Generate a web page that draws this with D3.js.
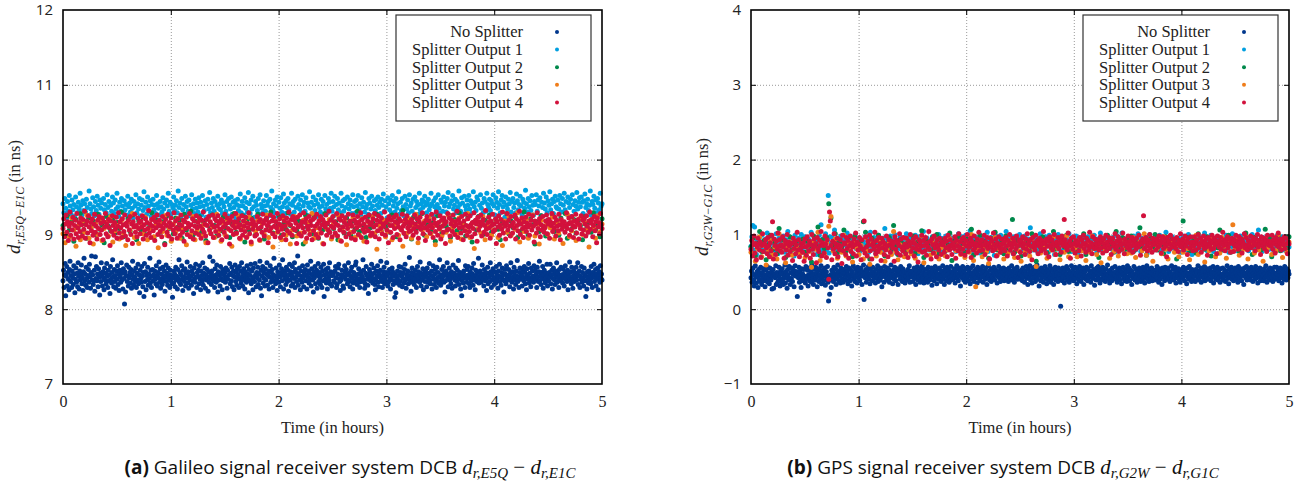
<!DOCTYPE html>
<html>
<head>
<meta charset="utf-8">
<script src="https://cdn.jsdelivr.net/npm/d3@7"></script>
<style>
  body { margin: 0; background: #fff; }
  .grid line { stroke: #999; stroke-dasharray: 1,2; }
  .grid path, .ticks path { display: none; }
  .ticks line { stroke: #000; }
</style>
</head>
<body>
<svg id="fig" width="1301" height="492"></svg>
<script>
// series values are in units of 0.01 ns, one sample per epoch, epochs evenly spaced over 0..5 h

var seriesNames = ["No Splitter", "Splitter Output 1", "Splitter Output 2", "Splitter Output 3", "Splitter Output 4"];
var seriesColors = ["#00378d", "#009fe0", "#00894b", "#ef7d1a", "#d2113c"];
var xTicks = [0, 1, 2, 3, 4, 5];
var galYTicks = [7, 8, 9, 10, 11, 12];
var gpsYTicks = [-1, 0, 1, 2, 3, 4];

// (a) Galileo E5Q - E1C
var galNoSplitter = [
  838,852,829,846,861,818,844,857,831,849,840,826,853,864,837,845,829,851,842,833,858,847,822,840,855,
  836,848,830,862,844,827,851,839,846,859,834,842,825,850,868,838,847,832,856,841,829,845,853,836,860,
  843,828,849,871,839,846,833,838,852,824,870,841,857,838,847,830,854,843,819,848,837,862,845,831,850,
  842,826,855,839,848,834,861,844,829,852,838,846,821,857,840,835,849,866,843,830,853,837,845,828,851,
  840,858,833,847,825,852,843,836,862,839,848,827,854,841,807,850,823,845,859,837,844,831,856,842,849,
  835,853,828,846,864,840,832,851,843,837,855,829,848,839,860,834,846,822,852,841,836,857,844,830,849,
  817,861,837,850,826,845,839,856,832,847,841,868,835,852,829,844,853,838,846,819,851,840,834,858,845,
  831,849,842,863,836,854,828,847,840,833,856,845,838,851,824,843,859,837,848,832,855,841,846,829,852,
  838,845,834,816,842,835,851,847,830,856,839,844,827,853,841,866,836,849,833,846,858,840,825,852,843,
  837,854,831,848,842,863,835,850,828,845,839,857,844,832,851,838,847,821,855,841,836,860,843,829,849,
  844,852,834,858,840,826,851,845,837,862,832,848,841,855,828,846,839,853,843,824,850,836,870,842,847,
  833,851,840,864,838,845,829,854,842,836,859,847,823,850,839,845,831,857,841,848,826,853,838,846,840,
  849,836,855,843,828,852,840,815,846,861,834,848,838,856,830,845,851,826,843,859,837,849,832,854,841,
  846,829,857,840,851,835,862,843,831,848,854,839,827,850,844,836,858,841,847,822,853,838,845,860,834,
  851,840,826,855,843,837,861,846,830,849,842,856,833,847,839,864,828,852,818,844,857,835,849,841,831,
  854,839,847,862,832,845,851,827,843,858,836,849,841,853,829,846,868,838,844,834,855,840,825,850,845,
  836,859,843,830,848,854,838,866,845,827,851,840,847,833,856,842,837,852,824,846,860,839,850,831,844,
  857,834,849,841,862,829,853,843,837,848,871,832,846,855,839,826,851,844,836,858,842,830,849,845,853,
  838,846,827,859,843,851,835,848,840,864,831,854,845,839,823,850,842,857,834,847,852,828,845,861,837,
  849,842,833,856,845,829,851,838,860,817,846,840,853,835,848,827,855,843,839,862,834,850,845,831,848,
  845,849,838,836,851,857,842,829,833,847,855,860,841,837,825,839,846,852,844,831,828,843,858,849,840,
  853,846,834,839,862,848,837,830,844,851,856,841,827,835,849,845,838,859,863,842,833,840,847,854,836,
  829,841,850,846,837,843,866,852,839,828,834,848,857,845,840,832,821,844,853,849,838,842,860,847,835,
  841,855,848,833,826,839,851,844,858,836,830,847,843,852,864,840,837,829,845,850,856,834,842,838,849,
  862,845,831,836,848,853,841,827,839,846,855,850,833,844,838,816,847,822,835,843,851,839,845,857,832,
  837,849,856,844,830,841,848,835,853,860,839,828,846,842,851,834,845,869,840,836,824,849,855,843,838,
  847,833,840,852,846,829,838,857,844,850,841,836,863,848,831,845,839,854,826,843,849,837,852,846,830,
  855,842,836,848,861,839,834,845,851,827,844,858,840,833,847,853,838,829,856,842,849,835,843,866,837,
  832,846,853,840,844,857,836,849,823,838,851,845,862,841,830,847,855,839,843,834,850,828,846,859,842,
  848,839,831,855,843,837,852,846,865,833,840,849,827,844,818,838,847,835,851,842,829,858,845,836,853,
  841,857,846,834,829,850,842,838,855,847,832,861,844,839,826,852,845,837,849,843,868,835,840,851,846,
  836,844,859,847,840,831,853,845,838,849,825,842,856,834,848,843,837,862,850,829,846,839,854,841,833,
  850,842,835,857,846,839,828,851,844,860,837,843,832,849,855,840,846,823,838,853,847,834,858,842,845,
  839,853,845,830,848,862,841,836,850,843,827,856,846,839,833,851,844,865,837,842,829,849,855,840,847,
  845,831,852,841,838,857,849,834,843,826,854,846,840,861,835,848,842,830,855,839,851,844,836,858,843,
  852,840,847,829,856,843,837,850,864,838,845,833,849,841,857,828,846,852,839,835,848,843,860,831,844,
  838,849,843,860,834,846,852,827,841,855,847,839,833,851,844,862,836,848,842,829,853,845,838,856,840,
  846,835,854,842,831,849,858,840,845,837,852,826,847,843,863,839,850,834,856,841,828,845,851,837,848,
  843,856,839,848,862,833,845,851,829,844,840,857,836,849,842,831,855,846,838,817,844,827,850,842,835,
  851,838,846,834,857,842,829,849,845,860,837,843,853,831,847,840,855,826,844,850,836,858,841,847,839
];
var galSplitter1 = [
  941,929,948,935,922,944,931,952,938,927,946,933,940,924,950,937,929,943,934,955,939,926,945,932,941,
  930,947,936,923,958,941,934,928,949,937,925,944,932,951,939,927,946,935,942,921,948,933,940,929,953,
  936,944,925,939,931,950,942,928,946,934,955,937,924,943,931,948,938,929,945,933,940,926,951,937,942,
  930,947,935,922,944,938,953,929,941,934,948,925,939,946,932,957,936,943,927,950,938,931,945,924,940,
  947,933,939,928,952,941,935,926,944,937,930,949,934,942,923,946,938,955,931,943,927,940,936,950,932,
  939,945,929,958,936,942,924,948,933,940,927,951,937,944,931,946,925,939,953,934,941,928,947,935,942,
  930,949,937,943,926,952,938,932,945,923,940,947,934,956,929,942,936,948,931,944,927,939,951,935,941,
  933,946,928,942,937,953,931,944,925,948,939,934,950,927,943,936,945,922,940,947,932,938,954,929,944,
  938,926,949,935,943,930,956,941,928,946,934,951,937,923,944,939,932,948,927,953,940,935,929,945,938,
  931,952,939,944,925,947,936,958,933,941,929,946,938,950,924,943,935,949,930,937,954,942,928,945,936,
  948,933,941,927,955,939,944,930,947,936,922,951,940,934,946,929,953,938,943,931,949,926,942,937,957,
  935,943,928,950,939,932,946,924,941,953,936,930,947,938,944,927,952,934,940,929,948,943,935,955,931,
  944,937,951,926,940,948,933,942,929,955,938,945,931,947,936,923,950,941,934,946,939,928,953,937,944,
  929,946,938,952,933,941,925,949,937,943,930,956,935,940,927,948,942,934,951,938,926,945,932,947,939,
  950,936,943,928,947,939,954,931,945,937,922,949,941,933,946,929,952,938,944,930,948,935,941,957,927,
  943,932,948,937,925,951,940,934,946,929,953,938,942,931,947,924,950,936,944,939,927,955,933,941,946,
  936,944,951,939,929,942,947,933,938,955,941,926,945,937,949,932,940,953,935,928,946,943,931,950,938,
  943,930,948,956,937,941,925,945,952,934,939,947,929,944,936,958,940,931,949,942,927,951,938,933,946,
  939,952,934,945,928,941,957,937,943,932,950,946,924,939,953,935,942,929,948,944,931,955,940,936,947,
  932,945,941,953,938,926,949,943,935,957,940,929,946,952,937,943,923,950,939,934,947,941,956,930,944,
  948,936,942,929,954,945,933,940,951,938,927,947,943,935,959,941,930,948,937,945,932,952,939,926,944,
  940,953,931,946,938,949,925,943,936,955,942,934,950,929,945,939,957,933,941,947,928,944,951,937,935,
  946,934,952,941,930,948,939,955,933,944,927,950,942,936,947,924,953,940,931,945,938,956,934,943,949,
  937,950,943,928,945,954,936,941,947,932,939,958,926,944,940,951,935,946,929,948,942,933,955,938,941
];
var galSplitter2 = [
  912,898,925,906,917,891,920,909,928,903,914,895,922,910,918,900,927,907,913,889,924,911,905,919,902,
  916,908,930,897,913,921,904,926,911,893,918,906,923,900,915,909,929,896,920,912,903,917,888,925,908,
  914,901,922,910,919,895,927,906,913,931,899,918,910,924,903,916,892,921,908,926,912,898,917,905,923,
  909,920,896,914,928,903,917,911,925,890,919,906,922,913,900,927,908,916,894,921,910,930,902,918,911,
  924,899,915,907,929,912,897,920,905,918,913,887,926,909,916,901,923,911,895,919,906,928,914,903,921,
  908,917,893,925,910,902,922,915,899,918,907,931,904,920,912,896,924,909,916,901,927,913,905,919,910,
  915,903,926,911,897,920,908,932,901,917,912,894,923,906,919,909,928,899,914,921,904,916,891,925,910,
  902,918,911,927,896,913,920,905,929,908,915,898,922,911,890,917,906,924,913,900,919,909,926,903,914,
  920,907,893,916,912,928,901,918,909,923,896,914,905,930,910,899,921,913,887,917,904,925,911,898,919,
  913,926,904,917,899,922,910,928,895,915,907,920,902,918,912,893,924,909,916,903,929,906,914,897,921
];
var galSplitter3 = [
  901,889,915,897,922,906,884,911,893,918,903,926,895,909,887,914,900,921,892,908,916,898,924,890,905,
  912,894,919,902,885,917,906,928,896,910,888,915,901,923,893,907,920,897,912,882,916,904,925,899,909,
  891,914,903,921,895,908,917,886,911,900,924,893,906,919,898,913,889,922,902,910,896,927,905,891,916,
  899,920,906,884,913,901,925,894,909,917,897,923,887,911,904,919,892,915,900,926,896,908,883,918,903,
  910,893,921,899,914,887,906,924,898,912,902,919,890,916,905,928,895,909,901,922,888,913,907,920,894,
  915,900,926,892,908,918,886,911,903,923,896,914,899,921,891,906,917,898,924,902,880,912,905,919,897,
  904,919,893,912,925,899,908,884,916,902,921,895,910,927,889,913,906,918,897,923,901,911,886,915,907,
  898,914,903,926,891,909,917,900,922,894,912,905,928,896,915,881,919,908,902,924,893,911,917,899,906,
  920,896,910,885,918,903,924,899,913,907,929,890,916,904,921,895,911,926,898,914,887,919,905,912,900,
  909,923,894,915,902,919,888,911,927,897,905,918,892,913,922,900,916,906,883,920,910,895,925,903,914
];
var galSplitter4 = [
  908,921,897,914,926,903,917,892,911,930,899,915,906,923,894,912,919,901,928,909,896,916,904,922,913,
  898,920,907,931,895,913,918,902,925,910,889,916,905,921,899,914,927,903,911,894,919,908,924,900,915,
  906,922,893,917,910,928,901,914,897,920,909,885,918,904,925,912,899,916,907,923,895,911,929,902,917,
  909,896,921,913,904,926,898,915,911,893,919,906,924,900,914,888,917,910,927,903,912,897,922,908,916,
  901,918,910,925,894,913,906,921,899,916,908,932,902,914,896,920,911,905,923,892,917,909,926,900,913,
  919,904,911,897,924,908,915,886,920,912,903,927,898,916,910,922,894,913,906,929,901,918,909,895,921,
  907,914,899,926,912,903,919,891,917,908,923,900,915,910,928,897,913,905,921,894,918,911,902,925,909,
  916,900,922,911,895,919,907,930,903,914,898,920,912,889,924,906,917,901,913,926,896,910,921,904,918,
  911,925,899,915,907,920,893,918,910,903,927,914,897,922,908,916,887,919,905,924,912,900,917,909,928,
  902,916,910,921,895,913,906,925,899,918,911,904,923,896,915,909,929,901,914,890,920,907,917,912,898,
  913,900,924,908,917,893,920,910,903,927,915,898,919,906,922,912,889,916,905,926,909,918,901,923,911,
  897,917,909,928,904,914,921,896,912,907,925,900,918,911,893,922,905,916,930,902,913,920,899,924,908,
  919,906,915,888,923,910,901,926,913,898,917,909,929,903,916,921,895,911,907,924,900,918,912,893,920,
  905,922,911,900,927,914,896,918,908,924,902,913,920,887,916,910,926,899,915,906,931,903,919,911,897,
  924,909,917,902,914,928,898,912,921,906,919,891,925,910,903,916,922,897,913,908,927,901,918,914,895,
  911,926,904,919,893,915,909,924,900,917,912,929,896,920,907,914,903,923,910,890,918,905,926,913,899,
  916,902,921,910,928,897,913,919,905,925,894,917,908,922,901,914,911,930,899,916,906,920,889,924,912,
  903,919,912,896,923,908,917,926,900,915,910,921,893,918,906,927,911,902,914,920,897,925,909,916,904,
  912,905,920,916,899,908,926,914,903,921,910,895,917,923,907,913,929,901,915,909,892,919,924,906,911,
  918,902,913,927,909,896,921,915,904,930,912,899,916,908,925,894,919,911,903,922,914,888,917,906,928,
  907,922,898,914,919,904,926,911,900,917,913,931,896,920,909,915,902,924,910,893,918,905,927,912,899,
  921,910,904,925,913,897,916,908,929,901,919,914,891,923,906,917,911,926,898,915,920,903,912,932,907,
  900,916,923,909,895,918,912,927,904,914,906,921,888,917,910,925,899,913,920,907,930,902,916,911,894,
  915,928,906,919,911,898,924,913,902,916,909,926,894,921,912,905,918,931,900,914,922,908,896,917,910,
  923,904,915,910,927,899,913,919,906,925,911,890,918,914,902,929,908,916,921,897,913,906,924,911,903,
  909,918,926,901,914,920,895,917,912,928,904,915,909,923,898,919,911,905,927,913,893,920,907,916,912,
  917,903,911,929,908,914,922,899,916,906,924,912,896,918,910,927,902,915,920,894,913,908,925,901,919,
  906,921,914,898,925,911,903,918,930,907,915,920,897,912,924,905,917,889,922,910,916,901,928,913,908
];

// (b) GPS G2W - G1C
var gpsNoSplitter = [
  42,51,36,47,55,39,31,46,58,43,35,50,44,29,53,40,48,37,56,45,33,49,41,54,38,
  46,30,39,52,43,57,36,48,41,34,55,45,39,50,27,44,53,28,47,47,42,58,33,49,35,
  45,38,56,42,31,51,47,36,54,40,33,48,44,59,35,50,42,28,53,46,39,57,41,33,49,
  41,55,37,47,52,30,45,58,50,44,50,17,48,42,56,36,51,45,29,54,40,47,38,53,43,
  43,35,57,44,40,52,31,46,55,38,43,50,36,59,45,41,33,53,47,39,56,42,48,30,51,
  44,37,54,46,40,58,34,49,43,52,38,47,55,32,45,50,41,57,36,11,44,20,39,46,29,
  52,43,49,37,56,45,40,54,33,48,42,59,46,38,51,44,35,55,47,41,50,36,53,39,45,
  48,39,57,44,51,34,46,55,42,38,53,47,31,50,44,58,40,45,37,54,43,49,35,56,46,
  41,52,38,47,55,44,33,50,45,59,13,48,42,53,36,46,51,43,57,40,47,34,54,45,49,
  38,56,44,50,41,47,35,53,46,42,58,37,49,45,52,39,55,43,30,48,44,51,36,57,46,
  43,50,39,55,47,41,53,36,48,45,59,42,49,34,52,46,40,56,44,38,51,47,54,33,49,
  45,52,40,57,43,48,37,54,46,41,50,35,44,44,49,39,53,47,42,58,36,51,45,48,43,
  50,37,46,55,41,48,33,52,44,57,39,47,43,51,36,54,45,40,58,42,49,35,53,46,38,
  47,53,41,36,56,44,50,39,48,45,55,32,49,43,52,38,46,57,41,51,34,47,44,54,40,
  55,42,48,37,51,45,58,40,47,33,53,44,49,38,56,46,41,52,36,48,43,57,39,50,45,
  40,49,54,43,35,52,46,58,41,47,38,55,44,50,31,53,45,42,57,48,39,51,44,36,54,
  47,41,56,45,38,52,49,34,55,43,48,40,58,46,37,51,44,53,42,49,35,56,46,41,52,
  45,38,53,48,43,57,36,50,44,51,40,55,47,33,49,42,58,45,39,52,46,37,54,43,50,
  41,56,47,39,53,45,50,35,48,44,57,42,51,37,46,54,40,49,43,55,38,47,52,45,41,
  53,44,48,37,55,46,41,50,43,58,39,47,52,45,36,54,42,49,44,56,40,48,51,43,47,
  47,40,52,45,38,55,43,49,36,51,46,57,41,44,33,53,48,42,58,39,47,50,35,54,45,
  42,56,48,37,51,44,59,40,46,53,31,49,45,38,55,42,47,52,36,50,43,57,41,48,34,
  53,45,39,50,47,58,42,36,54,46,41,51,33,48,44,56,39,52,45,49,37,55,43,47,40,
  4,51,46,38,55,43,49,35,52,45,41,57,47,39,53,44,36,50,48,42,58,40,46,54,38,
  49,43,56,41,47,34,53,45,50,39,57,44,48,37,52,46,42,55,33,49,45,51,40,56,43,
  38,54,46,42,51,47,36,58,44,49,41,53,45,32,50,46,39,55,48,43,57,40,52,35,47,
  53,41,48,56,39,45,51,43,37,54,47,42,59,46,40,50,35,52,44,48,38,55,43,49,45,
  46,57,40,50,44,36,53,48,42,55,39,47,51,34,49,45,56,41,47,38,53,44,50,37,58,
  42,49,55,38,46,52,44,33,50,47,41,57,45,39,54,43,48,36,51,46,40,55,49,44,37,
  51,45,39,56,43,48,35,53,47,42,58,40,46,50,37,54,44,49,41,55,38,47,52,43,45,
  39,52,47,44,57,41,49,36,54,45,40,51,46,33,55,48,43,50,38,56,45,42,53,47,40,
  55,43,50,37,48,45,58,41,46,53,39,47,44,56,35,51,42,49,45,54,40,47,36,52,46,
  44,50,41,56,47,38,53,45,49,34,55,43,48,40,57,46,42,51,37,53,45,39,50,44,48,
  37,53,46,49,42,58,44,39,51,47,55,36,48,43,52,45,41,57,38,50,46,44,54,40,49,
  52,41,47,55,38,46,50,43,57,35,49,45,53,40,47,44,56,39,51,42,48,36,54,45,43,
  46,55,39,48,44,52,37,50,45,58,41,47,34,53,46,42,49,56,40,45,51,38,47,43,55,
  40,48,53,45,36,57,43,49,41,54,47,38,52,45,50,33,55,44,48,42,57,39,46,51,44,
  54,42,47,39,56,45,51,37,48,44,53,40,57,46,42,49,35,52,47,43,55,38,50,45,41,
  45,51,38,54,47,42,58,44,36,50,46,53,41,48,55,39,47,43,52,37,49,45,56,40,48,
  43,56,47,41,52,38,49,45,55,42,47,35,53,46,50,40,57,44,48,39,54,46,42,51,47
];
var gpsSplitter1 = [
  84,97,112,79,110,88,73,92,81,95,86,70,99,83,90,77,94,85,102,80,91,87,75,96,89,
  82,93,78,101,86,74,95,84,90,86,80,98,87,76,93,85,104,81,89,96,79,92,86,71,99,
  84,90,77,95,88,83,100,79,88,86,97,74,89,82,94,87,78,103,85,91,80,96,88,73,93,
  86,99,81,113,77,94,87,84,101,79,92,152,75,97,88,82,95,80,106,89,83,93,78,91,86,
  98,80,88,94,76,91,85,102,82,89,79,96,87,73,93,84,100,81,90,86,95,77,92,88,83,
  91,79,97,86,82,94,76,89,103,84,92,80,96,87,74,90,85,99,81,93,88,78,95,83,108,
  87,95,80,91,84,98,77,89,93,82,100,86,75,92,88,81,97,85,90,79,94,87,83,101,78,
  92,86,96,81,89,77,94,85,99,83,90,74,97,88,82,93,86,104,80,91,87,95,79,89,84,
  90,83,97,79,88,94,76,92,85,100,81,89,95,78,93,86,72,98,84,91,87,80,96,83,89,
  95,82,88,77,93,86,101,80,91,85,97,74,90,84,99,79,88,93,82,105,87,76,94,89,83,
  88,96,79,92,84,75,98,87,82,94,80,91,86,103,77,90,85,96,81,93,88,72,99,84,92,
  81,93,87,99,76,90,84,95,79,104,88,83,92,78,96,86,89,74,97,85,91,80,94,87,100,
  86,78,95,89,83,98,75,91,87,94,81,109,85,92,79,96,88,82,93,77,90,86,101,84,89,
  93,85,80,97,88,91,76,99,84,90,82,95,87,73,94,89,83,100,80,92,86,96,78,91,85,
  79,94,88,83,101,86,92,77,96,84,89,81,98,87,75,93,85,91,82,97,88,80,95,86,90,
  97,84,91,78,93,87,82,99,85,90,76,94,88,83,102,80,92,86,95,79,89,84,96,81,88,
  87,93,80,96,84,89,77,99,91,83,86,95,79,102,88,82,94,85,90,76,97,87,81,93,89,
  84,98,88,79,92,86,101,83,90,77,95,87,93,81,89,96,74,91,85,100,82,88,94,79,92,
  90,81,96,87,83,99,78,92,86,94,80,89,103,84,91,77,95,88,82,97,86,90,79,93,87,
  83,95,88,76,92,85,98,81,89,94,79,87,100,84,91,86,73,96,90,82,88,95,80,93,85,
  96,84,91,80,87,102,83,92,78,95,88,85,99,81,90,77,94,87,83,97,89,75,92,86,91,
  88,79,94,86,99,82,90,76,93,87,84,101,80,91,85,96,78,89,94,83,98,86,81,92,87,
  82,97,85,91,78,94,88,83,100,86,92,79,95,84,89,106,81,93,87,77,96,85,90,82,94,
  91,86,80,98,84,93,89,75,95,87,82,99,88,81,94,86,97,79,90,85,92,78,96,88,83
];
var gpsSplitter2 = [
  83,95,71,88,104,77,92,66,86,99,80,90,74,108,85,93,69,89,97,79,87,91,79,82,94,
  76,91,84,63,98,87,110,72,93,81,96,141,122,85,101,75,90,83,106,78,94,86,70,97,88,
  80,92,117,103,85,67,95,89,78,99,83,91,71,87,96,80,112,84,73,93,88,77,88,86,81,
  98,75,90,84,105,69,92,87,79,96,82,100,74,89,93,78,86,102,65,91,85,97,80,88,76,
  94,83,107,72,90,86,99,77,91,84,68,95,88,103,79,87,93,74,98,82,89,120,76,92,85,
  71,96,84,90,78,101,87,64,93,82,97,89,75,92,86,104,80,88,73,95,83,99,77,91,86,
  88,79,95,84,101,73,90,86,97,81,92,69,87,94,78,99,85,91,76,104,83,89,96,80,93,
  84,98,77,90,86,109,81,93,72,88,95,83,100,79,91,86,74,97,89,82,94,87,67,92,85,
  118,83,96,78,89,93,75,101,86,90,80,97,84,71,95,88,82,106,79,92,87,99,76,90,84,
  91,77,94,86,102,81,89,73,96,85,92,79,88,107,83,95,70,90,87,99,78,93,85,81,97
];
var gpsSplitter3 = [
  76,88,64,81,97,70,85,59,79,92,73,83,67,101,78,86,62,82,90,72,80,84,76,75,87,
  69,84,77,56,91,80,103,65,86,74,89,111,124,78,94,68,83,76,99,71,87,79,63,90,81,
  73,85,67,96,78,60,88,82,71,92,76,84,64,80,89,73,104,77,66,86,81,70,95,79,74,
  91,68,83,77,98,62,85,80,72,89,75,93,67,82,86,71,79,95,84,84,78,90,73,81,69,
  87,76,100,65,30,79,92,70,84,77,61,88,81,96,72,80,86,67,91,75,82,94,69,85,78,
  64,89,77,83,71,94,80,57,86,75,90,82,68,85,79,97,73,81,66,88,76,98,70,84,79,
  82,70,93,78,86,65,89,76,98,81,73,87,62,90,79,84,68,95,77,83,71,88,80,92,74,
  87,75,96,69,83,90,78,101,72,85,79,64,93,81,88,74,97,80,67,86,91,76,84,70,89,
  76,92,81,66,88,79,99,73,85,91,63,87,78,94,82,70,89,75,96,84,68,90,77,113,80,
  93,72,86,80,97,67,84,89,75,92,79,85,64,95,81,88,73,91,78,100,83,69,87,76,90
];
var gpsSplitter4 = [
  80,92,71,86,98,75,88,66,83,95,87,79,90,69,85,101,77,87,87,93,82,74,96,84,70,
  89,78,99,117,67,94,85,73,91,80,102,84,93,78,86,76,97,83,68,92,87,79,100,72,90,
  84,77,88,88,65,95,81,91,74,86,103,79,93,70,80,88,83,76,89,64,94,83,72,97,85,
  78,91,68,86,100,80,73,94,84,88,62,96,81,77,92,85,104,71,89,85,75,98,87,69,93,
  82,40,130,118,85,66,91,80,101,74,88,83,95,70,86,79,93,84,61,99,78,89,87,73,96,
  81,92,68,85,98,77,89,83,74,94,86,102,71,90,79,87,96,84,66,93,80,80,118,75,97,
  83,71,91,86,99,78,94,67,85,89,80,103,74,92,84,77,96,81,88,65,95,82,90,73,87,
  79,98,84,70,93,86,76,86,91,82,88,64,97,80,92,75,89,85,101,72,94,83,78,96,81,
  87,74,95,83,69,91,86,100,77,89,82,94,71,88,97,80,85,63,93,79,90,84,99,76,92,
  85,78,96,72,89,83,104,80,91,67,94,86,75,98,82,88,70,93,84,79,95,87,73,90,86,
  88,76,95,82,91,70,99,84,79,93,86,73,84,89,81,97,68,92,85,78,101,83,90,74,94,
  80,96,87,72,92,84,100,77,89,83,95,69,91,86,79,98,82,88,75,94,85,103,78,90,84,
  93,79,86,99,73,90,84,96,81,88,67,95,83,91,78,102,86,80,94,71,89,85,97,82,76,
  87,94,81,88,90,78,96,84,71,92,86,100,79,88,83,95,74,91,87,80,98,84,69,93,89,
  76,91,85,97,82,88,73,94,80,101,86,90,77,93,84,66,96,83,89,79,99,85,92,74,88,
  95,83,78,92,87,104,80,89,75,94,84,91,70,97,86,82,93,79,88,100,85,73,90,84,96,
  81,89,94,76,98,85,90,120,93,83,87,79,102,84,91,68,95,86,80,97,88,75,92,85,89,
  90,78,96,84,71,93,87,99,81,88,76,95,85,92,79,103,83,89,74,97,86,81,94,88,82,
  86,93,79,88,97,82,91,75,94,87,83,99,78,90,85,96,81,92,73,89,95,84,88,101,80,
  91,84,97,77,89,93,86,80,102,88,74,94,85,90,82,98,87,79,92,84,96,76,89,93,85,
  80,95,88,83,99,86,72,91,87,94,125,81,90,96,84,78,93,88,100,82,89,76,95,86,91,
  87,79,94,90,83,98,85,92,75,89,97,81,88,93,84,70,96,87,91,80,99,86,83,94,88,
  93,86,81,96,88,77,92,85,101,83,90,94,79,87,98,84,91,73,95,89,82,97,86,90,78,
  84,97,90,79,93,87,100,82,88,95,76,91,86,98,81,89,94,83,72,96,88,85,92,80,99,
  89,81,95,86,92,74,98,87,83,91,96,80,88,103,85,93,78,90,86,97,82,94,88,76,91,
  95,88,77,93,84,99,86,91,80,97,89,83,94,75,90,87,101,82,96,85,79,92,88,84,98,
  82,91,96,85,89,78,94,87,100,83,92,86,73,97,90,84,95,81,88,93,77,99,86,91,85,
  90,84,99,80,93,88,75,96,85,91,102,83,89,94,79,87,92,86,97,81,95,88,74,90,87
];

var svg = d3.select("#fig");
var serif = "'Liberation Serif', serif";
var sans = "'Open Sans', sans-serif";

drawPanel({
  left: 63, right: 602, top: 10, bottom: 384,
  yDomain: [7, 12], yTicks: galYTicks,
  series: [galNoSplitter, galSplitter1, galSplitter2, galSplitter3, galSplitter4],
  ySub: "r,E5Q\u2212E1C", yLabelX: 20,
  capLetter: "(a)", capText: " Galileo signal receiver system DCB ", capSub1: "r,E5Q", capSub2: "r,E1C", capX: 350
});
drawPanel({
  left: 751, right: 1289, top: 10, bottom: 384,
  yDomain: [-1, 4], yTicks: gpsYTicks,
  series: [gpsNoSplitter, gpsSplitter1, gpsSplitter2, gpsSplitter3, gpsSplitter4],
  ySub: "r,G2W\u2212G1C", yLabelX: 708,
  capLetter: "(b)", capText: " GPS signal receiver system DCB ", capSub1: "r,G2W", capSub2: "r,G1C", capX: 1003
});

function drawPanel(p){
  var w = p.right - p.left, h = p.bottom - p.top;
  var x = d3.scaleLinear().domain([0, 5]).range([p.left, p.right]);
  var y = d3.scaleLinear().domain(p.yDomain).range([p.bottom, p.top]);
  var inner = p.yTicks.slice(1, -1);
  var innerX = xTicks.slice(1, -1);

  // dotted grid
  svg.append("g").attr("class", "grid")
    .attr("transform", "translate(" + p.left + ",0)")
    .call(d3.axisLeft(y).tickValues(inner).tickSize(-w).tickFormat(""));
  svg.append("g").attr("class", "grid")
    .attr("transform", "translate(0," + p.bottom + ")")
    .call(d3.axisBottom(x).tickValues(innerX).tickSize(-h).tickFormat(""));

  // points, drawn series by series so the later ones sit on top
  p.series.forEach(function(vals, s){
    var n = vals.length;
    svg.append("g").selectAll("circle")
      .data(vals)
      .join("circle")
      .attr("cx", function(d, i){ return x(i * 5 / (n - 1)); })
      .attr("cy", function(d){ return y(d / 100); })
      .attr("r", 2.5)
      .attr("fill", seriesColors[s]);
  });

  // mirrored inward ticks
  svg.append("g").attr("class", "ticks").attr("transform", "translate(" + p.left + ",0)")
    .call(d3.axisLeft(y).tickValues(inner).tickSize(-5).tickFormat(""));
  svg.append("g").attr("class", "ticks").attr("transform", "translate(" + p.right + ",0)")
    .call(d3.axisRight(y).tickValues(inner).tickSize(-5).tickFormat(""));
  svg.append("g").attr("class", "ticks").attr("transform", "translate(0," + p.bottom + ")")
    .call(d3.axisBottom(x).tickValues(innerX).tickSize(-5).tickFormat(""));
  svg.append("g").attr("class", "ticks").attr("transform", "translate(0," + p.top + ")")
    .call(d3.axisTop(x).tickValues(innerX).tickSize(-5).tickFormat(""));

  svg.append("rect")
    .attr("x", p.left).attr("y", p.top).attr("width", w).attr("height", h)
    .attr("fill", "none").attr("stroke", "#000").attr("stroke-width", 1.6);

  // tick labels
  var ya = svg.append("g").attr("transform", "translate(" + p.left + ",0)")
    .call(d3.axisLeft(y).tickValues(p.yTicks).tickSize(0).tickPadding(10).tickFormat(d3.format("d")));
  ya.select(".domain").remove();
  ya.selectAll("text").style("font-family", sans).style("font-size", "15px").attr("fill", "#222");

  var xa = svg.append("g").attr("transform", "translate(0," + p.bottom + ")")
    .call(d3.axisBottom(x).tickValues(xTicks).tickSize(0).tickPadding(12).tickFormat(d3.format("d")));
  xa.select(".domain").remove();
  xa.selectAll("text").style("font-family", serif).style("font-size", "16px").attr("fill", "#222");

  svg.append("text")
    .attr("x", (p.left + p.right) / 2).attr("y", 433)
    .attr("text-anchor", "middle")
    .style("font-family", serif).style("font-size", "16.5px").attr("fill", "#222")
    .text("Time (in hours)");

  // y axis title
  var yl = svg.append("text")
    .attr("transform", "translate(" + p.yLabelX + "," + ((p.top + p.bottom) / 2) + ") rotate(-90)")
    .attr("text-anchor", "middle")
    .style("font-family", serif).attr("fill", "#222");
  yl.append("tspan").style("font-style", "italic").style("font-size", "19px").text("d");
  yl.append("tspan").attr("dy", 4).style("font-style", "italic").style("font-size", "12px").text(p.ySub);
  yl.append("tspan").attr("dy", -4).style("font-size", "16.5px").text(" (in ns)");

  // legend
  var lx = p.right - 206, ly = p.top + 5;
  svg.append("rect")
    .attr("x", lx).attr("y", ly).attr("width", 195).attr("height", 106)
    .attr("fill", "#fff").attr("stroke", "#333").attr("stroke-width", 1.2);
  seriesNames.forEach(function(name, s){
    var ry = ly + 17 + s * 17.6;
    svg.append("text")
      .attr("x", lx + 127).attr("y", ry).attr("dy", "0.33em")
      .attr("text-anchor", "end")
      .style("font-family", serif).style("font-size", "16.5px").attr("fill", "#222")
      .text(name);
    svg.append("circle")
      .attr("cx", lx + 161).attr("cy", ry).attr("r", 2)
      .attr("fill", seriesColors[s]);
  });

  // caption
  var cap = svg.append("text")
    .attr("x", p.capX).attr("y", 474)
    .attr("text-anchor", "middle")
    .style("font-family", sans).style("font-size", "19px").attr("fill", "#111");
  cap.append("tspan").style("font-weight", "bold").text(p.capLetter);
  cap.append("tspan").text(p.capText);
  cap.append("tspan").style("font-family", serif).style("font-style", "italic").style("font-size", "21px").text("d");
  cap.append("tspan").attr("dy", 4).style("font-family", serif).style("font-style", "italic").style("font-size", "15px").text(p.capSub1);
  cap.append("tspan").attr("dy", -4).style("font-family", serif).style("font-size", "21px").text(" \u2212 ");
  cap.append("tspan").style("font-family", serif).style("font-style", "italic").style("font-size", "21px").text("d");
  cap.append("tspan").attr("dy", 4).style("font-family", serif).style("font-style", "italic").style("font-size", "15px").text(p.capSub2);
}
</script>
</body>
</html>
